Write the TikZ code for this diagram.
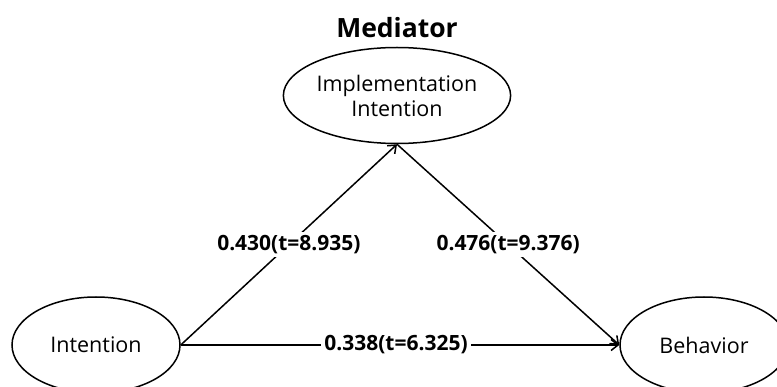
\documentclass[tikz,border=0pt]{standalone}
\usepackage{fontspec}
\setmainfont{Open Sans}
\usetikzlibrary{arrows.meta,shapes.geometric}

\begin{document}
\begin{tikzpicture}[x=1pt,y=-1pt,>={Straight Barb[length=7pt,width=11pt]},
  var/.style={draw,ellipse,line width=1.5pt,minimum width=168pt,minimum height=96pt,inner sep=0pt,align=center,font=\fontsize{21.5}{24}\selectfont},
  coef/.style={fill=white,inner sep=3pt,font=\bfseries\fontsize{21}{24}\selectfont},
  path/.style={->,line width=1.5pt}]
\useasboundingbox (0,0) rectangle (777,387);

\node[font=\bfseries\fontsize{26.5}{30}\selectfont] (title) at (397,28) {Mediator};

\node[var] (impl) at (397,95.5) {Implementation\\[1pt]Intention};
\node[var] (int) at (96,345) {Intention};
\node[var] (beh) at (704,345) {Behavior};

\draw[path] (int.east) -- (impl.south) node[coef,midway] {0.430(t=8.935)};
\draw[path] (impl.south) -- (beh.west) node[coef,midway] {0.476(t=9.376)};
\draw[path] (int.east) -- (beh.west) node[coef,midway,xshift=-4pt] {0.338(t=6.325)};
\end{tikzpicture}
\end{document}
